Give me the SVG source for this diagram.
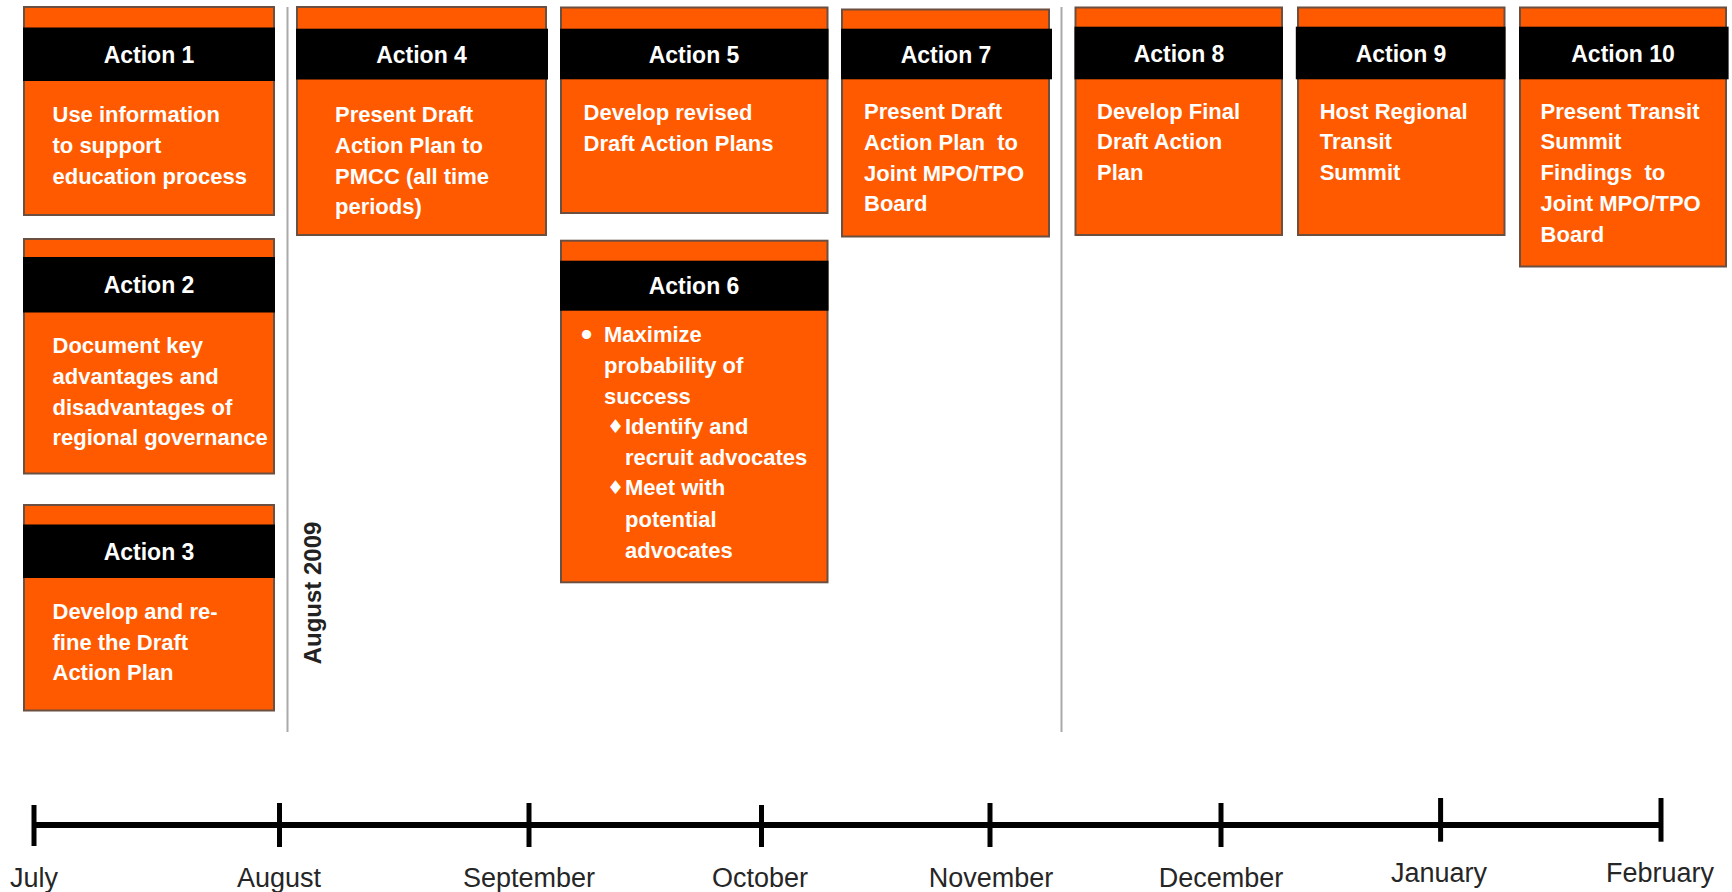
<svg xmlns="http://www.w3.org/2000/svg" width="1732" height="892" viewBox="0 0 1732 892">
<style>
.box{fill:#FF5A00;stroke:#6b4f40;stroke-width:2}
.hdr{fill:#000}
.ht{font-family:"Liberation Sans",Arial,sans-serif;font-weight:bold;font-size:23px;fill:#fff;text-anchor:middle}
.bt{font-family:"Liberation Sans",Arial,sans-serif;font-weight:bold;font-size:22px;fill:#fff;white-space:pre}
.dia{font-family:"DejaVu Sans",sans-serif;font-size:19px;fill:#fff}
.sep{stroke:#aaaaaa;stroke-width:2}
.tl{stroke:#000;stroke-width:6}
.tick{stroke:#000;stroke-width:5}
.ml{font-family:"Liberation Sans",Arial,sans-serif;font-size:27px;fill:#262626;text-anchor:middle}
.rot{font-family:"Liberation Sans",Arial,sans-serif;font-weight:bold;font-size:24px;fill:#222;text-anchor:middle}
</style>
<rect width="1732" height="892" fill="#fff"/>
<g id="separators">
<line class="sep" x1="287.5" y1="7" x2="287.5" y2="732"/>
<line class="sep" x1="1061.5" y1="7" x2="1061.5" y2="732"/>
<text class="rot" transform="translate(321,593) rotate(-90)">August 2009</text>
</g>
<g id="action1">
<rect class="box" x="24" y="7" width="250" height="208"/>
<rect class="hdr" x="23" y="27.5" width="252" height="53.5"/>
<text class="ht" x="149" y="63">Action 1</text>
<text class="bt" x="52.5" y="122">Use information</text>
<text class="bt" x="52.5" y="152.7">to support</text>
<text class="bt" x="52.5" y="184">education process</text>
</g>
<g id="action2">
<rect class="box" x="24" y="239" width="250" height="234.5"/>
<rect class="hdr" x="23" y="257" width="252" height="55.5"/>
<text class="ht" x="149" y="293">Action 2</text>
<text class="bt" x="52.5" y="352.5">Document key</text>
<text class="bt" x="52.5" y="383.5">advantages and</text>
<text class="bt" x="52.5" y="414.5">disadvantages of</text>
<text class="bt" x="52.5" y="445">regional governance</text>
</g>
<g id="action3">
<rect class="box" x="24" y="505" width="250" height="205.5"/>
<rect class="hdr" x="23" y="524.5" width="252" height="53.5"/>
<text class="ht" x="149" y="559.5">Action 3</text>
<text class="bt" x="52.5" y="619">Develop and re-</text>
<text class="bt" x="52.5" y="649.5">fine the Draft</text>
<text class="bt" x="52.5" y="680">Action Plan</text>
</g>
<g id="action4">
<rect class="box" x="297" y="7" width="249" height="228"/>
<rect class="hdr" x="296" y="28.7" width="252" height="50.8"/>
<text class="ht" x="421.5" y="62.5">Action 4</text>
<text class="bt" x="335" y="122">Present Draft</text>
<text class="bt" x="335" y="152.7">Action Plan to</text>
<text class="bt" x="335" y="184">PMCC (all time</text>
<text class="bt" x="335" y="214">periods)</text>
</g>
<g id="action5">
<rect class="box" x="561" y="7.5" width="266.5" height="205.5"/>
<rect class="hdr" x="560" y="28.7" width="268.5" height="50.6"/>
<text class="ht" x="694" y="62.5">Action 5</text>
<text class="bt" x="583.6" y="119.6">Develop revised</text>
<text class="bt" x="583.6" y="150.5">Draft Action Plans</text>
</g>
<g id="action6">
<rect class="box" x="561" y="240.7" width="266.5" height="341.6"/>
<rect class="hdr" x="560" y="260.7" width="268.5" height="50"/>
<text class="ht" x="694" y="293.5">Action 6</text>
<text class="bt" x="581" y="345" style="font-size:32px">•</text>
<text class="bt" x="604" y="341.6">Maximize</text>
<text class="bt" x="604" y="372.5">probability of</text>
<text class="bt" x="604" y="404">success</text>
<text class="dia" x="607" y="433">♦</text>
<text class="bt" x="625" y="434.4">Identify and</text>
<text class="bt" x="625" y="465.3">recruit advocates</text>
<text class="dia" x="607" y="494">♦</text>
<text class="bt" x="625" y="495.2">Meet with</text>
<text class="bt" x="625" y="527">potential</text>
<text class="bt" x="625" y="558">advocates</text>
</g>
<g id="action7">
<rect class="box" x="842" y="9.5" width="207" height="227"/>
<rect class="hdr" x="841" y="28.7" width="211" height="50.6"/>
<text class="ht" x="946" y="62.5">Action 7</text>
<text class="bt" x="864" y="118.5">Present Draft</text>
<text class="bt" x="864" y="150.3">Action Plan  to</text>
<text class="bt" x="864" y="181">Joint MPO/TPO</text>
<text class="bt" x="864" y="211.2">Board</text>
</g>
<g id="action8">
<rect class="box" x="1075.5" y="7.5" width="206.5" height="227.5"/>
<rect class="hdr" x="1074.5" y="26.7" width="208.5" height="52.6"/>
<text class="ht" x="1179" y="61.5">Action 8</text>
<text class="bt" x="1097" y="118.5">Develop Final</text>
<text class="bt" x="1097" y="149.4">Draft Action</text>
<text class="bt" x="1097" y="180.3">Plan</text>
</g>
<g id="action9">
<rect class="box" x="1298" y="7.5" width="206.5" height="227.5"/>
<rect class="hdr" x="1295.8" y="26.7" width="209.7" height="52.6"/>
<text class="ht" x="1401" y="61.5">Action 9</text>
<text class="bt" x="1319.7" y="118.5">Host Regional</text>
<text class="bt" x="1319.7" y="149.4">Transit</text>
<text class="bt" x="1319.7" y="180.3">Summit</text>
</g>
<g id="action10">
<rect class="box" x="1520" y="7.5" width="206" height="259"/>
<rect class="hdr" x="1519" y="26.7" width="209.6" height="52.6"/>
<text class="ht" x="1623" y="61.5">Action 10</text>
<text class="bt" x="1540.6" y="118.5">Present Transit</text>
<text class="bt" x="1540.6" y="149.4">Summit</text>
<text class="bt" x="1540.6" y="180.3">Findings  to</text>
<text class="bt" x="1540.6" y="211.2">Joint MPO/TPO</text>
<text class="bt" x="1540.6" y="242.2">Board</text>
</g>
<g id="timeline">
<line class="tl" x1="34" y1="825" x2="1661" y2="825"/>
<line class="tick" x1="34" y1="805" x2="34" y2="846"/>
<line class="tick" x1="279.5" y1="803" x2="279.5" y2="847"/>
<line class="tick" x1="529" y1="803" x2="529" y2="847"/>
<line class="tick" x1="761.5" y1="805" x2="761.5" y2="847"/>
<line class="tick" x1="990" y1="803" x2="990" y2="847"/>
<line class="tick" x1="1221" y1="803" x2="1221" y2="847"/>
<line class="tick" x1="1440.6" y1="798" x2="1440.6" y2="841.7"/>
<line class="tick" x1="1661" y1="798" x2="1661" y2="841.7"/>
<text class="ml" x="34" y="887">July</text>
<text class="ml" x="279" y="887">August</text>
<text class="ml" x="529" y="887">September</text>
<text class="ml" x="760" y="887">October</text>
<text class="ml" x="991" y="887">November</text>
<text class="ml" x="1221" y="887">December</text>
<text class="ml" x="1439" y="882">January</text>
<text class="ml" x="1660" y="882">February</text>
</g>
</svg>
